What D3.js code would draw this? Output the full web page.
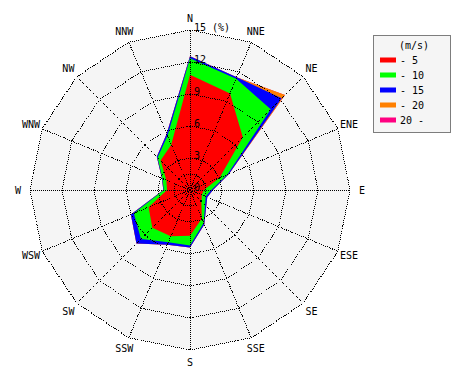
<!DOCTYPE html>
<html>
<head>
<meta charset="utf-8">
<script src="https://cdn.jsdelivr.net/npm/d3@7"></script>
<style>
  html, body { margin: 0; padding: 0; background: #ffffff; }
  svg { display: block; }
  text { font-family: "DejaVu Sans Mono", monospace; font-size: 10px; fill: #000; }
</style>
</head>
<body>
<svg id="chart" width="470" height="380"></svg>
<script>
// ---- data ----
const directions = ["N","NNE","NE","ENE","E","ESE","SE","SSE","S","SSW","SW","WSW","W","WNW","NW","NNW"];
const speedBins = ["- 5","- 10","- 15","- 20","20 -"];
const binColors = ["#ff0000","#00ff00","#0000ff","#ff8000","#ff0080"];
// frequency (%) per direction for each wind-speed bin
const s5   = [10.8, 9.8, 7.0, 3.0, 1.3, 1.2, 1.5, 2.9, 4.3, 4.7, 5.0, 4.2, 2.15, 2.4, 3.9, 4.6];
const s10  = [1.55, 1.5, 3.7, 0.8, 0.7, 0.4, 0.5, 0.45, 0.9, 0.6, 1.5, 1.5, 0.3, 0.4, 0.4, 0.9];
const s15  = [0.2, 0.15, 1.45, 0.15, 0.15, 0.15, 0.15, 0.15, 0.2, 0.25, 0.6, 0.3, 0.05, 0.05, 0.1, 0.2];
const s20  = [0, 0, 0.45, 0, 0, 0, 0, 0, 0, 0, 0, 0, 0, 0, 0, 0];
const s20p = [0, 0, 0, 0, 0, 0, 0, 0, 0, 0, 0, 0, 0, 0, 0, 0];
const ringValues = [1.5, 3, 6, 9, 12, 15];
const ringLabels = [[0,"0"],[3,"3"],[6,"6"],[9,"9"],[12,"12"],[15,"15 (%)"]];
const unitLabel = "(m/s)";

// ---- layout ----
const svg = d3.select("#chart");
const cx = 190, cy = 190, R = 160;
const r = d3.scaleLinear().domain([0, 15]).range([0, R]);
const ang = d3.scaleLinear().domain([0, directions.length]).range([0, 2 * Math.PI]);
const g = svg.append("g").attr("transform", `translate(${cx},${cy})`);

// background
const ringLine = d3.lineRadial().curve(d3.curveLinearClosed);
g.append("path")
  .attr("d", ringLine(directions.map((d, i) => [ang(i), r(15)])))
  .attr("fill", "#f5f5f5");

// stacked data polygons
const series = [s5, s10, s15, s20, s20p];
const rows = directions.map((d, i) => {
  const o = { dir: d };
  speedBins.forEach((b, k) => o[b] = series[k][i]);
  return o;
});
const stacked = d3.stack().keys(speedBins)(rows);
const area = d3.lineRadial()
  .angle((d, i) => ang(i))
  .radius(d => r(d[1]))
  .curve(d3.curveLinearClosed);
stacked.slice().reverse().forEach(layer => {
  g.append("path")
    .attr("d", area(layer))
    .attr("fill", binColors[layer.index])
    .attr("stroke", "none");
});

// grid
const grid = g.append("g")
  .attr("fill", "none").attr("stroke", "#000").attr("stroke-width", 1)
  .attr("stroke-dasharray", "1,1").attr("shape-rendering", "crispEdges");
ringValues.forEach(v => {
  grid.append("path").attr("d", ringLine(directions.map((d, i) => [ang(i), r(v)])));
});
directions.forEach((d, i) => {
  const a = ang(i);
  grid.append("line")
    .attr("x1", 0).attr("y1", 0)
    .attr("x2", r(15) * Math.sin(a)).attr("y2", -r(15) * Math.cos(a));
});

// ring labels
ringLabels.forEach(([v, t]) => {
  g.append("text")
    .attr("x", 4).attr("y", -r(v) - 3)
    .attr("dominant-baseline", "central")
    .text(t);
});

// direction labels
directions.forEach((d, i) => {
  const a = ang(i);
  g.append("text")
    .attr("x", (R + 12) * Math.sin(a))
    .attr("y", -(R + 12) * Math.cos(a))
    .attr("text-anchor", "middle")
    .attr("dominant-baseline", "central")
    .text(d);
});

// legend
const lg = svg.append("g");
lg.append("rect")
  .attr("x", 373.5).attr("y", 35.5).attr("width", 77).attr("height", 97)
  .attr("fill", "#f5f5f5").attr("stroke", "#000").attr("stroke-dasharray", "1,1");
lg.append("text").attr("x", 414).attr("y", 45).attr("text-anchor", "middle")
  .attr("dominant-baseline", "central").text(unitLabel);
speedBins.forEach((b, k) => {
  const y = 60 + 15 * k;
  lg.append("rect").attr("x", 380).attr("y", y - 2.5).attr("width", 16).attr("height", 5)
    .attr("fill", binColors[k]);
  lg.append("text").attr("x", 400).attr("y", y).attr("dominant-baseline", "central").text(b);
});
</script>
</body>
</html>
